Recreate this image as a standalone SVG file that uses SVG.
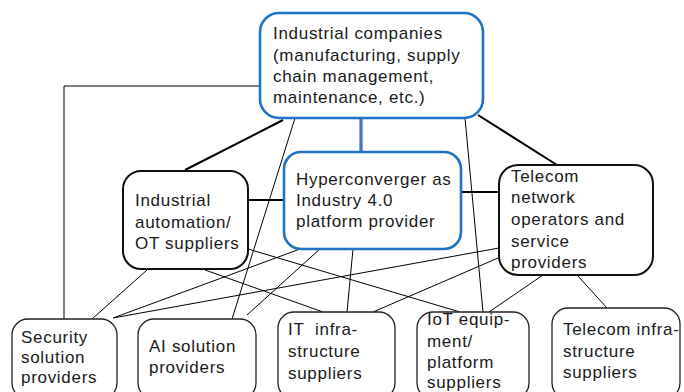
<svg xmlns="http://www.w3.org/2000/svg" width="684" height="392" viewBox="0 0 684 392">
<style>
text{font-family:"Liberation Sans",Arial,sans-serif;font-size:17px;letter-spacing:0.7px;fill:#1a1a1a}
.blue{fill:#fff;stroke:#1f72c4;stroke-width:2.6}
.blk{fill:#fff;stroke:#111;stroke-width:2}
.bot{fill:#fff;stroke:#222;stroke-width:1.3}
.thick{stroke:#000;stroke-width:2;fill:none}
.thin{stroke:#000;stroke-width:1;fill:none}
</style>
<rect width="684" height="392" fill="#fff"/>
<g id="connectors">
  <polyline class="thin" points="260,86 64,86 64,319"/>
  <line class="thick" x1="283" y1="120" x2="185" y2="170"/>
  <line class="thick" x1="478" y1="115" x2="557" y2="165"/>
  <line class="thick" x1="248" y1="200" x2="284" y2="200"/>
  <line class="thick" x1="461" y1="192" x2="499" y2="192"/>
  <line x1="361" y1="118" x2="361" y2="152" stroke="#4472c4" stroke-width="3.2"/>
  <line class="thin" x1="295" y1="118" x2="232" y2="319"/>
  <line class="thin" x1="465" y1="118" x2="483" y2="312"/>
  <line class="thin" x1="147" y1="270" x2="92" y2="319"/>
  <line class="thin" x1="113" y1="318" x2="300" y2="249"/>
  <line class="thin" x1="113" y1="318" x2="499" y2="248"/>
  <line class="thin" x1="498" y1="258" x2="373" y2="312"/>
  <line class="thin" x1="205" y1="270" x2="323" y2="312"/>
  <line class="thin" x1="248" y1="249" x2="460" y2="312"/>
  <line class="thin" x1="247" y1="315" x2="321" y2="248"/>
  <line class="thin" x1="353" y1="249" x2="347" y2="312"/>
  <line class="thin" x1="543" y1="275" x2="489" y2="312"/>
  <line class="thin" x1="577" y1="275" x2="607" y2="308"/>
</g>
<g id="industrial-companies">
  <rect class="blue" x="260" y="13" width="223" height="105" rx="19"/>
  <text x="273" y="39">Industrial companies</text>
  <text x="273" y="61">(manufacturing, supply</text>
  <text x="273" y="82">chain management,</text>
  <text x="273" y="103">maintenance, etc.)</text>
</g>
<g id="hyperconverger">
  <rect class="blue" x="284" y="152" width="177" height="97" rx="17"/>
  <text x="296" y="185">Hyperconverger as</text>
  <text x="296" y="206">Industry 4.0</text>
  <text x="296" y="227">platform provider</text>
</g>
<g id="industrial-automation">
  <rect class="blk" x="123" y="171" width="125" height="98" rx="18"/>
  <text x="135" y="206">Industrial</text>
  <text x="135" y="228">automation/</text>
  <text x="135" y="249">OT suppliers</text>
</g>
<g id="telecom-operators">
  <rect class="blk" x="499" y="165" width="154" height="110" rx="19"/>
  <text x="511" y="182">Telecom</text>
  <text x="511" y="203">network</text>
  <text x="511" y="225">operators and</text>
  <text x="511" y="247">service</text>
  <text x="511" y="268">providers</text>
</g>
<g id="security">
  <rect class="bot" x="12" y="319" width="105" height="80" rx="16"/>
  <text x="21" y="343">Security</text>
  <text x="21" y="363">solution</text>
  <text x="21" y="383">providers</text>
</g>
<g id="ai">
  <rect class="bot" x="138" y="319" width="118" height="80" rx="16"/>
  <text x="149" y="352">AI solution</text>
  <text x="149" y="373">providers</text>
</g>
<g id="it-infra">
  <rect class="bot" x="278" y="312" width="117" height="87" rx="16"/>
  <text x="288" y="335" xml:space="preserve">IT  infra-</text>
  <text x="288" y="357">structure</text>
  <text x="288" y="379">suppliers</text>
</g>
<g id="iot">
  <rect class="bot" x="417" y="312" width="112" height="87" rx="16"/>
  <text x="427" y="325">IoT equip-</text>
  <text x="427" y="347">ment/</text>
  <text x="427" y="368">platform</text>
  <text x="427" y="388">suppliers</text>
</g>
<g id="telecom-infra">
  <rect class="bot" x="552" y="308" width="128" height="91" rx="16"/>
  <text x="563" y="335">Telecom infra-</text>
  <text x="563" y="357">structure</text>
  <text x="563" y="378">suppliers</text>
</g>
</svg>
